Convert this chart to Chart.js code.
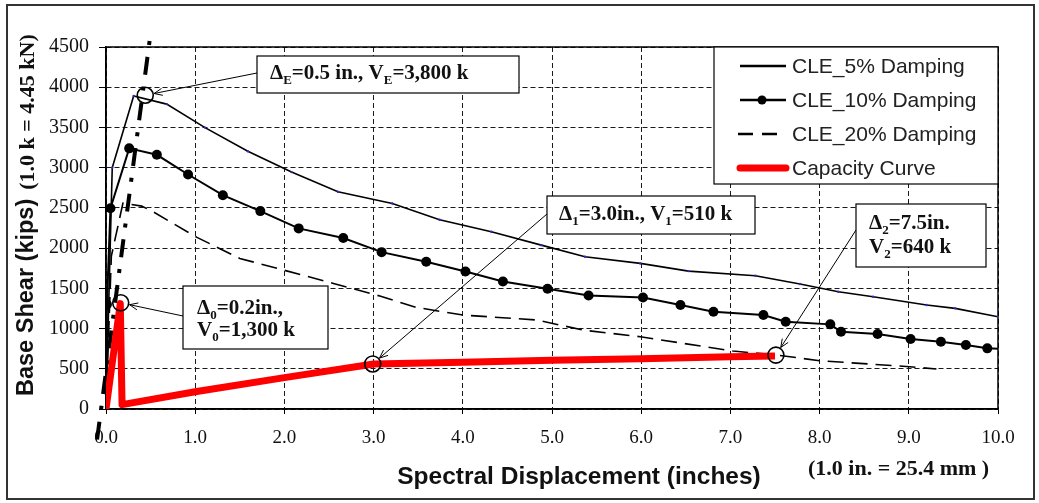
<!DOCTYPE html>
<html>
<head>
<meta charset="utf-8">
<script src="https://cdn.jsdelivr.net/npm/chart.js@4.4.0/dist/chart.umd.min.js"></script>
<style>
html,body{margin:0;padding:0;background:#fff;}
#wrap{position:relative;width:1039px;height:503px;}
</style>
</head>
<body>
<div id="wrap"><canvas id="c" width="1039" height="503"></canvas></div>
<script>
// values (inches, kips)
const cle5X  = [0, 0.07, 0.31, 0.68, 1.11, 1.59, 2.08, 2.60, 3.21, 3.74, 4.32, 4.88, 5.37, 5.99, 6.53, 7.28, 7.78, 8.21, 8.60, 9.20, 9.52, 10.0];
const cle5Y  = [0, 3000, 3890, 3790, 3498, 3205, 2945, 2700, 2555, 2352, 2203, 2037, 1892, 1810, 1714, 1656, 1553, 1457, 1395, 1292, 1251, 1147];
const cle10X = [0, 0.01, 0.05, 0.26, 0.57, 0.92, 1.31, 1.73, 2.16, 2.66, 3.09, 3.59, 4.03, 4.45, 4.95, 5.41, 6.02, 6.44, 6.81, 7.37, 7.62, 8.12, 8.24, 8.65, 9.02, 9.36, 9.64, 9.88, 10.0];
const cle10Y = [0, 1300, 2495, 3240, 3160, 2915, 2658, 2460, 2245, 2125, 1950, 1830, 1710, 1586, 1495, 1412, 1385, 1292, 1209, 1168, 1085, 1052, 960, 932, 870, 836, 795, 754, 750];
const cle20X = [0, 0.06, 0.19, 0.40, 0.53, 1.02, 1.50, 1.99, 2.55, 3.07, 3.48, 4.00, 4.83, 5.35, 5.99, 6.47, 7.03, 7.52, 8.00, 9.01, 9.31];
const cle20Y = [0, 1900, 2560, 2522, 2451, 2133, 1872, 1727, 1561, 1404, 1263, 1168, 1106, 981, 898, 816, 720, 671, 600, 526, 497];
const capX   = [0, 0.16, 0.18, 1.0, 2.0, 3.0, 4.0, 5.0, 6.0, 7.0, 7.5];
const capY   = [0, 1310, 55, 215, 390, 560, 580, 605, 625, 648, 660];
const elasticX = [-0.10, 0.50];
const elasticY = [-380, 4670];
const circleX = [0.44, 0.165, 2.99, 7.51];
const circleY = [3900, 1320, 560, 670];
const seriesNames = ['CLE_5% Damping', 'CLE_10% Damping', 'CLE_20% Damping', 'Capacity Curve'];

const SERIF = '"Liberation Serif", "Times New Roman", serif';
const SANS = '"Liberation Sans", Arial, sans-serif';

const pts = (xs, ys) => xs.map((x, i) => ({x: x, y: ys[i]}));

// callout boxes: [left, top, width, height] in px, text parts [text, isSubscript]
const notes = [
  {box:[257,56,262,37], textX:270, lineY:[74], from:[257,73], target:0,
   lines:[[['Δ',0],['E',1],['=0.5 in., V',0],['E',1],['=3,800 k',0]]]},
  {box:[183,286,145,63], textX:197, lineY:[309,331], from:[183,316], target:1,
   lines:[[['Δ',0],['0',1],['=0.2in.,',0]], [['V',0],['0',1],['=1,300 k',0]]]},
  {box:[547,196,208,38], textX:559, lineY:[215], from:[547,214], target:2,
   lines:[[['Δ',0],['1',1],['=3.0in., V',0],['1',1],['=510 k',0]]]},
  {box:[856,204,130,63], textX:869, lineY:[224,248], from:[856,230], target:3,
   lines:[[['Δ',0],['2',1],['=7.5in.',0]], [['V',0],['2',1],['=640 k',0]]]}
];

function richText(ctx, x, y, parts, size){
  let cx = x;
  parts.forEach(p => {
    const sub = p[1];
    ctx.font = 'bold ' + (sub ? Math.round(size*0.62) : size) + 'px ' + SERIF;
    ctx.fillText(p[0], cx, sub ? y + size*0.3 : y);
    cx += ctx.measureText(p[0]).width;
  });
}

const framePlugin = {
  id: 'frame',
  beforeDatasetsDraw(chart){
    const {ctx, chartArea: a} = chart;
    ctx.save();
    ctx.strokeStyle = '#000';
    ctx.lineWidth = 1.5;
    ctx.strokeRect(a.left, a.top, a.right - a.left, a.bottom - a.top);
    ctx.restore();
  },
  afterDraw(chart){
    const ctx = chart.ctx;
    const xs = chart.scales.x, ys = chart.scales.y;
    ctx.save();
    // outer frame
    ctx.strokeStyle = '#333';
    ctx.lineWidth = 2;
    ctx.strokeRect(7, 5, 1027, 494);

    // callouts
    ctx.textBaseline = 'middle';
    ctx.textAlign = 'left';
    notes.forEach(n => {
      const cxp = xs.getPixelForValue(circleX[n.target]);
      const cyp = ys.getPixelForValue(circleY[n.target]);
      const dx = n.from[0] - cxp, dy = n.from[1] - cyp;
      const len = Math.sqrt(dx*dx + dy*dy);
      const tx = cxp + dx/len*9, ty = cyp + dy/len*9;
      ctx.strokeStyle = '#000';
      ctx.lineWidth = 1;
      ctx.beginPath();
      ctx.moveTo(n.from[0], n.from[1]);
      ctx.lineTo(tx, ty);
      const ang = Math.atan2(dy, dx);
      ctx.moveTo(tx + Math.cos(ang+0.4)*9, ty + Math.sin(ang+0.4)*9);
      ctx.lineTo(tx, ty);
      ctx.lineTo(tx + Math.cos(ang-0.4)*9, ty + Math.sin(ang-0.4)*9);
      ctx.stroke();
      const b = n.box;
      ctx.fillStyle = '#fff';
      ctx.fillRect(b[0], b[1], b[2], b[3]);
      ctx.lineWidth = 1.2;
      ctx.strokeRect(b[0], b[1], b[2], b[3]);
      ctx.fillStyle = '#111';
      n.lines.forEach((ln, i) => richText(ctx, n.textX, n.lineY[i], ln, 21));
    });

    // legend
    const L = {left:714, top:47, right:998, bottom:184};
    ctx.fillStyle = '#fff';
    ctx.fillRect(L.left, L.top, L.right - L.left, L.bottom - L.top);
    ctx.strokeStyle = '#000';
    ctx.lineWidth = 1.2;
    ctx.strokeRect(L.left, L.top, L.right - L.left, L.bottom - L.top);
    const rowY = [66, 100, 134, 168];
    chart.data.datasets.slice(0, 4).forEach((ds, i) => {
      const y = rowY[i];
      ctx.strokeStyle = ds.borderColor;
      ctx.lineWidth = i === 3 ? 7 : 2.5;
      ctx.setLineDash(i === 2 ? [15, 9] : []);
      ctx.lineCap = i === 3 ? 'round' : 'butt';
      ctx.beginPath();
      ctx.moveTo(i === 2 ? 738 : 740, y);
      ctx.lineTo(786, y);
      ctx.stroke();
      ctx.setLineDash([]);
      if(i === 1){
        ctx.fillStyle = '#000';
        ctx.beginPath(); ctx.arc(762, y, 4.5, 0, Math.PI*2); ctx.fill();
      }
      ctx.fillStyle = '#222';
      ctx.font = '21px ' + SANS;
      ctx.fillText(seriesNames[i], 792, y + 1);
    });

    // axis titles
    ctx.fillStyle = '#111';
    ctx.textBaseline = 'middle';
    ctx.font = 'bold 24.5px ' + SANS;
    ctx.textAlign = 'center';
    ctx.fillText('Spectral Displacement (inches)', 579, 477);
    ctx.font = 'bold 22px ' + SERIF;
    ctx.textAlign = 'left';
    ctx.fillText('(1.0 in. = 25.4 mm )', 808, 469);

    ctx.translate(27, 396);
    ctx.rotate(-Math.PI/2);
    ctx.font = 'bold 23.5px ' + SANS;
    const t1 = 'Base Shear (kips)';
    ctx.fillText(t1, 0, 0);
    const w1 = ctx.measureText(t1).width;
    ctx.font = 'bold 22px ' + SERIF;
    ctx.fillText('(1.0 k = 4.45 kN)', w1 + 9, 1);
    ctx.restore();
  }
};

new Chart(document.getElementById('c'), {
  type: 'line',
  data: {
    datasets: [
      {label: seriesNames[0], data: pts(cle5X, cle5Y), borderColor: '#000', borderWidth: 1.6,
       pointRadius: 1.2, pointBackgroundColor: '#2a2ad0', pointBorderWidth: 0, tension: 0, order: 4},
      {label: seriesNames[1], data: pts(cle10X, cle10Y), borderColor: '#000', borderWidth: 2,
       pointRadius: cle10X.map((x, i) => (i === 0 || i === cle10X.length - 1) ? 0 : 5),
       pointBackgroundColor: '#000', pointBorderWidth: 0, tension: 0, order: 3},
      {label: seriesNames[2], data: pts(cle20X, cle20Y), borderColor: '#000', borderWidth: 1.6,
       borderDash: [16, 8], pointRadius: 0, tension: 0, order: 5},
      {label: seriesNames[3], data: pts(capX, capY), borderColor: '#ff0000', borderWidth: 7,
       pointRadius: 0, tension: 0, order: 1, borderJoinStyle: 'round'},
      {label: 'elastic', data: pts(elasticX, elasticY), borderColor: '#000', borderWidth: 4,
       borderDash: [18, 12, 4, 12], pointRadius: 0, clip: false, order: 2},
      {label: 'points', data: pts(circleX, circleY), showLine: false, pointRadius: 8,
       pointBackgroundColor: 'rgba(0,0,0,0)', pointBorderColor: '#000', pointBorderWidth: 1.6, order: 0}
    ]
  },
  options: {
    responsive: false,
    animation: false,
    devicePixelRatio: 1,
    layout: {padding: {left: 0, top: 47, right: 41, bottom: 0}},
    plugins: {legend: {display: false}, tooltip: {enabled: false}},
    scales: {
      x: {
        type: 'linear', min: 0, max: 10,
        afterFit: s => { s.height = 94; },
        ticks: {stepSize: 1, callback: v => v.toFixed(1), font: {family: SERIF, size: 19}, color: '#111', padding: 13},
        grid: {color: '#1a1a1a', lineWidth: 1, tickLength: 5, tickColor: '#000', tickBorderDash: []},
        border: {color: '#000', width: 1.5, dash: [5, 3]}
      },
      y: {
        min: 0, max: 4500,
        afterFit: s => { s.width = 106; },
        ticks: {stepSize: 500, callback: v => String(v), font: {family: SERIF, size: 20}, color: '#111', padding: 10},
        grid: {color: '#1a1a1a', lineWidth: 1, tickLength: 7, tickColor: '#000', tickBorderDash: []},
        border: {color: '#000', width: 1.5, dash: [5, 3]}
      }
    }
  },
  plugins: [framePlugin]
});
</script>
</body>
</html>
